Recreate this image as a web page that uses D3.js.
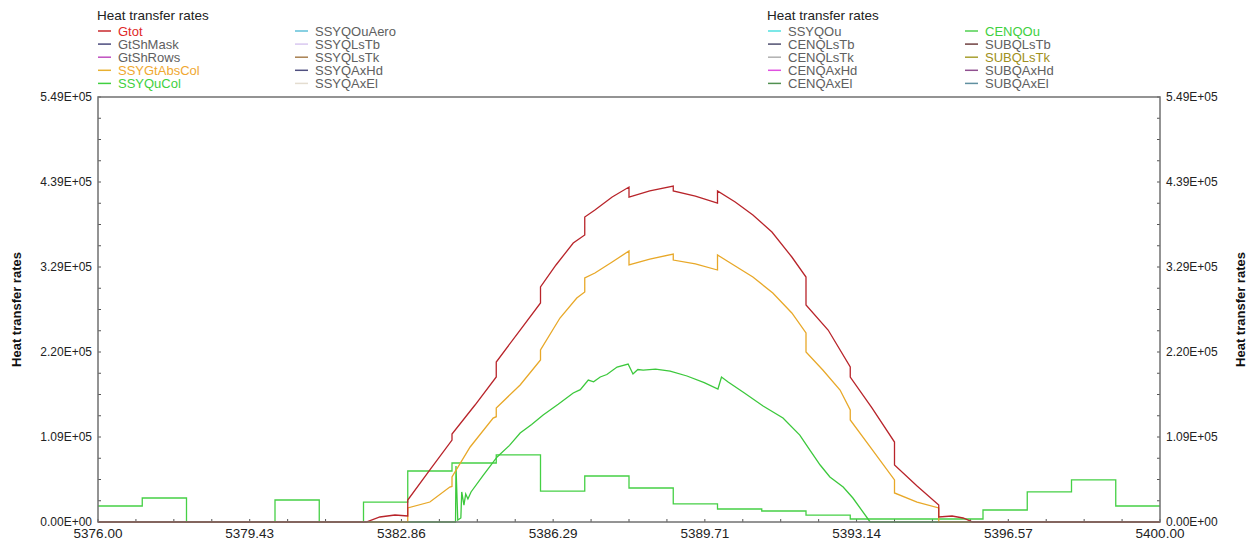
<!DOCTYPE html>
<html>
<head>
<meta charset="utf-8">
<script src="https://cdn.jsdelivr.net/npm/d3@7"></script>
<style>
  body { margin: 0; background: #fff; }
  text { font-family: "Liberation Sans", Arial, sans-serif; }
</style>
</head>
<body>
<div id="container"></div>
<script>
// series data [time, value]
var gtot = [[5376,0],[5382.06,0],[5382.37,6460],[5382.71,9040],[5383,7750],[5383,28400],[5383.5,67200],
  [5384,105900],[5384,113700],[5384.52,151100],[5385,187300],[5385,206700],[5385.54,248000],[5386,282900],
  [5386,303600],[5386.35,332000],[5386.74,360400],[5387,370700],[5387,394000],[5387.23,403000],[5387.62,419800],
  [5388,432700],[5388,419800],[5388.47,427600],[5389,434000],[5389,427600],[5389.5,421100],[5390,412000],
  [5390,427600],[5390.4,413400],[5390.8,396600],[5391.23,374600],[5391.68,342300],[5392,316400],[5392,280300],
  [5392.5,248000],[5393,200200],[5393,187300],[5393.49,147300],[5394,103300],[5394,73600],[5394.51,46500],
  [5395,22000],[5395,6460],[5395.3,7750],[5395.55,5170],[5395.77,0],[5400,0]];

var ssyGtAbsCol = [[5376,0],[5383,0],[5383,18100],[5383.5,25800],[5383.95,45200],[5384,46000],[5384,58100],
  [5384.41,96900],[5384.93,134300],[5385,136000],[5385,147300],[5385.54,177000],[5386,209300],[5386,222200],
  [5386.44,263500],[5386.82,289400],[5387,297100],[5387,315200],[5387.23,321700],[5387.62,335900],[5388,350100],
  [5388,332000],[5388.47,339700],[5389,346200],[5389,338400],[5389.5,333300],[5390,325500],[5390,344900],
  [5390.4,330700],[5390.8,316500],[5391.25,295800],[5391.68,270000],[5392,244200],[5392,219600],[5392.38,196300],
  [5392.77,170500],[5393,144700],[5393,131800],[5393.45,96900],[5394,54300],[5394,37500],[5394.51,25800],
  [5395,18100],[5395,0],[5400,0]];

var ssyQuCol = [[5376,0],[5384.08,0],[5384.09,72300],[5384.13,2600],[5384.2,5200],[5384.22,38800],[5384.27,21900],
  [5384.31,36200],[5384.36,29700],[5384.43,38800],[5384.7,60000],[5385.02,84000],[5385.3,99000],[5385.54,115000],
  [5385.8,126000],[5386.06,138200],[5386.4,152000],[5386.74,166600],[5386.9,171000],[5387.08,183400],[5387.2,181000],
  [5387.35,187300],[5387.5,190500],[5387.73,200200],[5387.98,204100],[5388.09,191200],[5388.2,197000],[5388.32,196300],
  [5388.6,197500],[5388.93,195000],[5389.31,188600],[5389.7,180000],[5390.01,171800],[5390.09,187300],[5390.24,180800],
  [5390.6,167000],[5391.03,149800],[5391.48,134300],[5391.86,112300],[5392.1,92000],[5392.32,73600],[5392.54,58100],
  [5392.84,45200],[5393.06,31000],[5393.45,0],[5400,0]];

// hourly step values
var cenQOuHours = [5376,5377,5378,5379,5380,5381,5382,5383,5384,5385,5386,5387,5388,
  5389,5390,5391,5392,5393,5394,5395,5396,5397,5398,5399,5400];
var cenQOuValues = [20700,31000,0,0,28400,0,25800,65900,76200,86600,40000,59400,43900,
  23300,16800,14200,9000,3900,3900,3900,15500,38800,54300,20700,20700];

var xTickValues = d3.range(8).map(function(i) { return 5376 + i * 24 / 7; });
var yMax = 549000;
var yTickLabels = ["0.00E+00","1.09E+05","2.20E+05","3.29E+05","4.39E+05","5.49E+05"];

var legendLeft = ["Gtot","GtShMask","GtShRows","SSYGtAbsCol","SSYQuCol",
  "SSYQOuAero","SSYQLsTb","SSYQLsTk","SSYQAxHd","SSYQAxEl"];
var legendLeftColors = ["#c8282d","#4b4b7d","#c050c0","#e8b030","#40d040",
  "#60c0d8","#d8c8f0","#a88050","#505080","#e4ddd0"];
var legendRight = ["SSYQOu","CENQLsTb","CENQLsTk","CENQAxHd","CENQAxEl",
  "CENQOu","SUBQLsTb","SUBQLsTk","SUBQAxHd","SUBQAxEl"];
var legendRightColors = ["#50e0e0","#505070","#b0b0b0","#e050e0","#509050",
  "#50d050","#704040","#a8a030","#905090","#6090a0"];
var activeText = {"Gtot":"#e02828","SSYGtAbsCol":"#f0a830","SSYQuCol":"#40d040","CENQOu":"#40d040","SUBQLsTk":"#a09020"};

var w = 1254, h = 544;
var margin = {top: 97, right: 94, bottom: 22, left: 98};

var svg = d3.select("#container").append("svg")
    .attr("width", w)
    .attr("height", h);

var x = d3.scaleLinear().domain([5376, 5400]).range([margin.left, w - margin.right]);
var y = d3.scaleLinear().domain([0, yMax]).range([h - margin.bottom, margin.top]);

var axisColor = "#707070";

//minor ticks
var xMinor = d3.range(29).map(function(i) { return 5376 + i * 24 / 28; });
var yMinor = d3.range(21).map(function(i) { return i * yMax / 20; });

var ticks = svg.append("g").attr("stroke", "#555").attr("stroke-width", 1);
xMinor.forEach(function(t) {
    ticks.append("line").attr("x1", x(t)).attr("x2", x(t))
        .attr("y1", y(0)).attr("y2", y(0) - 3);
});
yMinor.forEach(function(v) {
    ticks.append("line").attr("x1", x(5376)).attr("x2", x(5376) + 3)
        .attr("y1", y(v)).attr("y2", y(v));
    ticks.append("line").attr("x1", x(5400)).attr("x2", x(5400) - 3)
        .attr("y1", y(v)).attr("y2", y(v));
});

//lines
var line = d3.line()
    .x(function(d) { return x(d[0]); })
    .y(function(d) { return y(d[1]); });

var stepLine = d3.line()
    .curve(d3.curveStepAfter)
    .x(function(d, i) { return x(cenQOuHours[i]); })
    .y(function(d) { return y(d); });

var plot = svg.append("g").attr("fill", "none").attr("stroke-width", 1.3);

plot.append("path").attr("d", stepLine(cenQOuValues)).attr("stroke", "#45d045");
plot.append("path").attr("d", line(ssyQuCol)).attr("stroke", "#3cc83c");
plot.append("path").attr("d", line(ssyGtAbsCol)).attr("stroke", "#e8a828");
plot.append("path").attr("d", line(gtot)).attr("stroke", "#b8242a");

//frame
svg.append("rect")
    .attr("x", x(5376)).attr("y", y(yMax))
    .attr("width", x(5400) - x(5376)).attr("height", y(0) - y(yMax))
    .attr("fill", "none").attr("stroke", axisColor).attr("stroke-width", 1.5);

//tick labels
svg.append("g").selectAll("text")
    .data(xTickValues).enter().append("text")
    .attr("x", function(d) { return x(d); })
    .attr("y", y(0) + 16)
    .attr("text-anchor", "middle")
    .attr("font-size", "13.5px")
    .attr("fill", "#222")
    .text(function(d) { return d.toFixed(2); });

yTickLabels.forEach(function(lbl, i) {
    var v = i * yMax / 5;
    svg.append("text")
        .attr("x", x(5376) - 6).attr("y", y(v) + 4)
        .attr("text-anchor", "end").attr("font-size", "12px").attr("fill", "#222")
        .text(lbl);
    svg.append("text")
        .attr("x", x(5400) + 6).attr("y", y(v) + 4)
        .attr("text-anchor", "start").attr("font-size", "12px").attr("fill", "#222")
        .text(lbl);
});

//axis titles
var midY = (y(0) + y(yMax)) / 2;
[21, 1245].forEach(function(px) {
    svg.append("text")
        .attr("transform", "translate(" + px + "," + midY + ") rotate(-90)")
        .attr("text-anchor", "middle")
        .attr("font-size", "13px")
        .attr("font-weight", "bold")
        .attr("fill", "#111")
        .text("Heat transfer rates");
});

//legends
function legend(x0, names, colors) {
    var g = svg.append("g");
    g.append("text").attr("x", x0).attr("y", 20)
        .attr("font-size", "13.5px").attr("fill", "#222")
        .text("Heat transfer rates");
    names.forEach(function(n, i) {
        var col = Math.floor(i / 5), row = i % 5;
        var lx = x0 + 1 + col * 197;
        var ly = 31 + row * 13.1;
        g.append("line").attr("x1", lx).attr("x2", lx + 13)
            .attr("y1", ly).attr("y2", ly)
            .attr("stroke", colors[i]).attr("stroke-width", 1.5);
        g.append("text").attr("x", lx + 20).attr("y", ly + 4.5)
            .attr("font-size", "13px")
            .attr("fill", activeText[n] || "#606060")
            .text(n);
    });
}
legend(97, legendLeft, legendLeftColors);
legend(767, legendRight, legendRightColors);
</script>
</body>
</html>
